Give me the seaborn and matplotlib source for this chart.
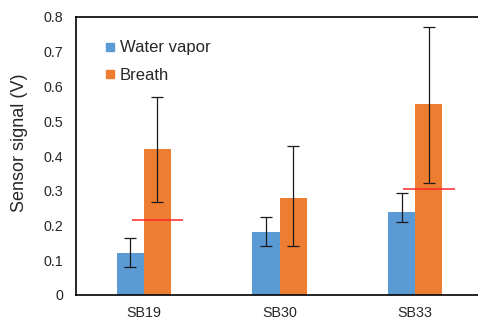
import matplotlib
matplotlib.use("Agg")
import matplotlib.pyplot as plt
from matplotlib.lines import Line2D
import seaborn as sns
import pandas as pd
import numpy as np

categories = ["SB19", "SB30", "SB33"]
series = ["Water vapor", "Breath"]
water_vapor = [0.12, 0.18, 0.24]
water_err_lo = [0.04, 0.038, 0.03]
water_err_hi = [0.043, 0.045, 0.054]
breath = [0.42, 0.28, 0.55]
breath_err_lo = [0.152, 0.138, 0.228]
breath_err_hi = [0.15, 0.15, 0.22]
threshold = [0.215, None, 0.305]
ytick_vals = [0, 0.1, 0.2, 0.3, 0.4, 0.5, 0.6, 0.7, 0.8]
ytick_labels = ["0", "0.1", "0.2", "0.3", "0.4", "0.5", "0.6", "0.7", "0.8"]

colors = {"Water vapor": "#5B9BD5", "Breath": "#ED7D31"}
text_color = "#262626"

sns.set_style("white")
plt.rcParams["font.family"] = ["Liberation Sans", "DejaVu Sans"]

df = pd.DataFrame({
    "category": categories * 2,
    "series": [series[0]] * 3 + [series[1]] * 3,
    "value": water_vapor + breath,
})

fig = plt.figure(figsize=(4.78, 3.21), dpi=100)
ax = fig.add_axes([76 / 478, 1 - 295 / 321, 407 / 478, 278 / 321])

sns.barplot(data=df, x="category", y="value", hue="series", hue_order=series,
            order=categories, palette=colors, saturation=1, width=0.4,
            errorbar=None, legend=False, linewidth=0, ax=ax)

errs = [(water_err_lo, water_err_hi), (breath_err_lo, breath_err_hi)]
for cont, vals, (lo, hi) in zip(ax.containers, [water_vapor, breath], errs):
    xs = [p.get_x() + p.get_width() / 2 for p in cont.patches]
    ax.errorbar(xs, vals, yerr=[lo, hi], fmt="none", ecolor="#1a1a1a",
                elinewidth=0.9, capsize=4.2, capthick=0.9, zorder=5)

orange_x = [p.get_x() + p.get_width() / 2 for p in ax.containers[1].patches]
for x, t in zip(orange_x, threshold):
    if t is not None:
        ax.hlines(t, x - 0.19, x + 0.19, colors="#ff2a2a", linewidth=1.3,
                  alpha=0.85, zorder=6)

ax.set_xlim(-0.5, 2.5)
ax.set_ylim(0, 0.8)
ax.set_yticks(ytick_vals)
ax.set_yticklabels(ytick_labels)
ax.tick_params(axis="y", length=0, pad=9, labelsize=10.3, labelcolor=text_color)
ax.tick_params(axis="x", length=0, pad=8, labelsize=10.3, labelcolor=text_color)
ax.set_xlabel("")
ax.set_ylabel("Sensor signal (V)", fontsize=13, color=text_color)
ax.yaxis.set_label_coords(-0.117, 0.547)

for s in ["left", "top", "bottom", "right"]:
    ax.spines[s].set_visible(True)
    ax.spines[s].set_color("black")
    ax.spines[s].set_linewidth(1.2)

handles = [Line2D([], [], marker="s", linestyle="none", markersize=6,
                  markerfacecolor=colors[s], markeredgecolor=colors[s]) for s in series]
leg = ax.legend(handles, series, loc="upper left", bbox_to_anchor=(0.055, 0.94),
                frameon=False, fontsize=12, handlelength=0.6, handletextpad=0.3,
                labelspacing=0.75, borderaxespad=0)
for t in leg.get_texts():
    t.set_color(text_color)

fig.savefig("out.png", dpi=100)
